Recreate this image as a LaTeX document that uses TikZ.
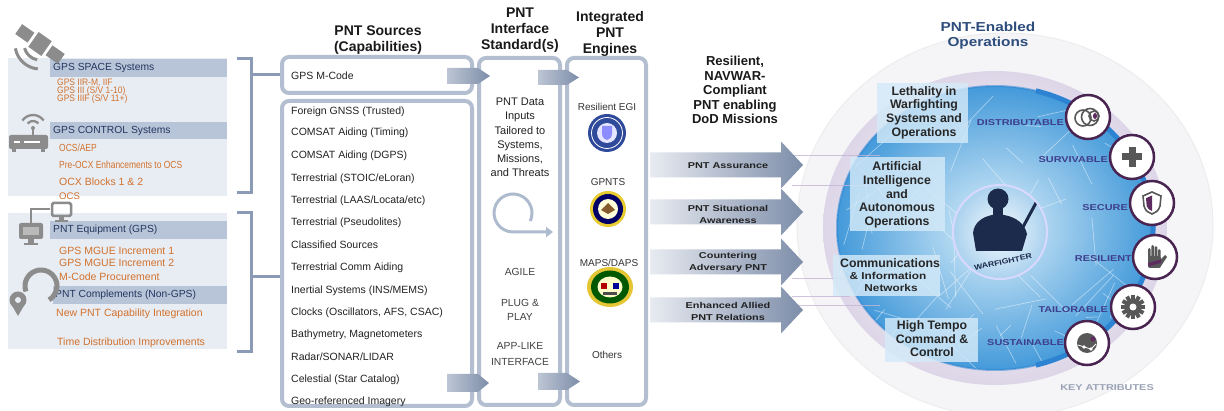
\documentclass[tikz,border=0pt]{standalone}
\usepackage{fontspec}
\setmainfont{Liberation Sans}
\newfontfamily\widef[FakeStretch=1.28]{Liberation Sans}
\newfontfamily\wideg[FakeStretch=1.18]{Liberation Sans}
\newfontfamily\narrowf[FakeStretch=0.82]{Liberation Sans}
\newfontfamily\narrowg[FakeStretch=0.9]{Liberation Sans}
\usetikzlibrary{arrows.meta}
\definecolor{panelbg}{HTML}{E8ECF3}
\definecolor{barc}{HTML}{B8C4D8}
\definecolor{navyt}{HTML}{23365E}
\definecolor{orng}{HTML}{D2722C}
\definecolor{brk}{HTML}{8C9BB5}
\definecolor{boxc}{HTML}{B3BFD1}
\definecolor{arL}{HTML}{E8EBF1}
\definecolor{arR}{HTML}{7D8DA9}
\definecolor{icong}{HTML}{8C8C8C}
\definecolor{txt}{HTML}{222222}
\definecolor{discin}{HTML}{DDF0FA}
\definecolor{discout}{HTML}{449ADA}
\definecolor{ringb}{HTML}{2C83D2}
\definecolor{rim}{HTML}{DDD6E8}
\definecolor{boxblue}{HTML}{D4EAF8}
\definecolor{attrc}{HTML}{3D3F8C}
\definecolor{attrb}{HTML}{4A2451}
\definecolor{purp}{HTML}{5E2B60}
\definecolor{wfnavy}{HTML}{1C2A4B}
\definecolor{titleb}{HTML}{2E4D7C}
\definecolor{keyg}{HTML}{9AA3B6}
\definecolor{icond}{HTML}{585858}
\definecolor{haloc}{HTML}{F5F5F8}
\definecolor{lavl}{HTML}{C4B5D6}
\definecolor{afblue}{HTML}{2F4A9A}
\definecolor{cyc}{HTML}{AEBBCF}
\tikzset{
 hdr/.style={font=\fontsize{10.3}{12}\selectfont, text=navyt, anchor=west, inner sep=0pt},
 org/.style={font=\fontsize{10.5}{12}\selectfont, text=orng, anchor=west, inner sep=0pt},
 orgn/.style={font=\narrowf\fontsize{10.3}{12}\selectfont, text=orng, anchor=west, inner sep=0pt},
 orgs/.style={font=\narrowg\fontsize{9.4}{10}\selectfont, text=orng, anchor=west, inner sep=0pt},
 src/.style={font=\fontsize{10.5}{12}\selectfont, text=txt, anchor=west, inner sep=0pt},
 colhead/.style={font=\bfseries\fontsize{14}{16}\selectfont, align=center, text=black!90, inner sep=0pt},
 midt/.style={font=\fontsize{11}{14.2}\selectfont, text=txt, align=center, inner sep=0pt},
 agile/.style={font=\fontsize{10.3}{14.5}\selectfont, text=black!75, align=center, inner sep=0pt},
 engt/.style={font=\fontsize{10}{12}\selectfont, text=black!80, inner sep=0pt},
 arlab/.style={font=\widef\bfseries\fontsize{8.5}{12}\selectfont, text=txt, align=center, inner sep=0pt},
 sph/.style={font=\bfseries\fontsize{12.3}{13.6}\selectfont, text=black!85, align=center, inner sep=0pt},
 sphs/.style={font=\wideg\bfseries\fontsize{10}{12}\selectfont, text=black!85, align=center, inner sep=0pt},
 attr/.style={font=\widef\bfseries\fontsize{8.5}{10}\selectfont, text=attrc, anchor=east, inner sep=0pt},
 attrcirc/.style={circle, minimum size=44pt, inner sep=0pt, fill=white, draw=attrb, line width=2.5pt},
 framebox/.style={draw=boxc, line width=4pt, rounded corners=7pt, fill=white, inner sep=0pt},
 bigarrow/.style={left color=arL, right color=arR},
 smallarrow/.style={left color=arL!60!arR, right color=arR},
 sbox/.style={fill=boxblue, fill opacity=0.82},
 brline/.style={draw=brk, line width=3pt},
}
\begin{document}
\begin{tikzpicture}[x=1pt,y=-1pt]
\useasboundingbox (0,0) rectangle (1224,411);
\fill[white] (0,0) rectangle (1224,411);

% ---------------- left panel ----------------
\fill[panelbg] (8,58) rectangle (227,196);
\fill[panelbg] (8,213) rectangle (227,349);
\fill[barc] (50,59) rectangle (227,77);
\fill[barc] (50,122) rectangle (227,139);
\fill[barc] (50,221) rectangle (227,239);
\fill[barc] (53,286) rectangle (227,304);
\node[hdr] (hspace) at (53,68) {GPS SPACE Systems};
\node[hdr] (hctrl) at (53,130.5) {GPS CONTROL Systems};
\node[hdr] (hequip) at (53,230) {PNT Equipment (GPS)};
\node[hdr] (hcompl) at (55,295) {PNT Complements (Non-GPS)};
\node[orgs] (o1) at (57,83) {GPS IIR-M, IIF};
\node[orgs] (o2) at (57,91) {GPS III (S/V 1-10)};
\node[orgs] (o3) at (57,99) {GPS IIIF (S/V 11+)};
\node[orgn] (o4) at (59,148) {OCS/AEP};
\node[orgn] (o5) at (59,165) {Pre-OCX Enhancements to OCS};
\node[org] (o6) at (59,182) {OCX Blocks 1 \& 2};
\node[org, font=\fontsize{9.6}{11}\selectfont] (o7) at (59,196) {OCS};
\node[org] (o8) at (59,251) {GPS MGUE Increment 1};
\node[org] (o9) at (59,263) {GPS MGUE Increment 2};
\node[org] (o10) at (59,277) {M-Code Procurement};
\node[org] (o11) at (56,314) {New PNT Capability Integration};
\node[org] (o12) at (57,343) {Time Distribution Improvements};

% icons
\begin{scope}[shift={(40,44)}, rotate=-35]
 \fill[icong] (-26,-6) rectangle (-11,6);
 \fill[icong] (-8,-9) rectangle (8,9);
 \fill[icong] (11,-6) rectangle (26,6);
\end{scope}
\draw[icong, line width=3pt] (40,44) ++(100:16) arc[start angle=100, end angle=165, radius=16];
\draw[icong, line width=3pt] (40,44) ++(95:25) arc[start angle=95, end angle=170, radius=25];
\draw[icong, line width=2.3pt] (33,128) ++(-140:7) arc[start angle=-140, end angle=-40, radius=7];
\draw[icong, line width=2.3pt] (33,128) ++(-145:13) arc[start angle=-145, end angle=-35, radius=13];
\fill[icong] (33,128) circle (2);
\draw[icong, line width=1.8pt] (33,128) -- (33,135);
\fill[icong, rounded corners=2pt] (9,135) rectangle (48,149);
\fill[white] (14,141) rectangle (20,143.5);
\fill[white] (24,141) rectangle (40,143.5);
\fill[icong] (12,149) rectangle (16,152);
\fill[icong] (41,149) rectangle (45,152);
\draw[icong, line width=2.5pt, rounded corners=1.5pt] (52,203) rectangle (71,216);
\fill[icong] (59,216) rectangle (64,220);
\fill[icong] (55,220) rectangle (68,222);
\fill[icong, rounded corners=2pt] (19,223) rectangle (43,239);
\fill[icong!60] (23,227) rectangle (39,235);
\fill[icong] (28,239) rectangle (34,243);
\fill[icong] (24,243) rectangle (38,245);
\draw[icong, line width=2pt] (31,223) -- (31,209) -- (50,209);
\draw[icong, line width=5pt] (41,286) ++(160:16) arc[start angle=160, end angle=420, radius=16];
\fill[icong] (18,300) circle (8.5);
\fill[icong] (10.5,303) -- (18,316) -- (25.5,303) -- cycle;
\fill[panelbg] (18,300) circle (3);

% ---------------- frames ----------------
\node[framebox, minimum width=190pt, minimum height=36pt] (mcode) at (377,75) {};
\node[framebox, minimum width=190pt, minimum height=305pt] (srcs) at (377,253.5) {};
\node[framebox, minimum width=81pt, minimum height=347pt] (ifc) at (519.5,231.5) {};
\node[framebox, minimum width=79pt, minimum height=347pt] (eng) at (606.5,231.5) {};

% brackets and their links
\coordinate (b1) at (251,75);
\coordinate (b2) at (251,277);
\draw[brline] (237,59) -- (251,59) -- (251,193) -- (237,193);
\draw[brline] (237,213) -- (251,213) -- (251,352) -- (237,352);
\draw[brline] (b1) -- (mcode.west);
\draw[brline] (b2) -- (srcs.west |- b2);

% small shaded arrows
\shade[smallarrow] (447,68) -- (478,68) -- (490,76) -- (478,84) -- (447,84) -- cycle;
\shade[smallarrow] (447,374) -- (478,374) -- (489,383) -- (478,392) -- (447,392) -- cycle;
\shade[smallarrow] (538,70) -- (567,70) -- (579,77.5) -- (567,85) -- (538,85) -- cycle;
\shade[smallarrow] (538,373) -- (567,373) -- (580,381.5) -- (567,390) -- (538,390) -- cycle;

% column headings
\node[colhead] (hsrc) at (378,40) {PNT Sources\\(Capabilities)};
\node[colhead] (hifc) at (520,30) {PNT\\Interface\\Standard(s)};
\node[colhead] (heng) at (610,33.5) {Integrated\\PNT\\Engines};

% sources
\node[src] (s0) at (291,76) {GPS M-Code};
\node[src] (s1) at (291,112) {Foreign GNSS (Trusted)};
\node[src] (s2) at (291,133) {COMSAT Aiding (Timing)};
\node[src] (s3) at (291,156) {COMSAT Aiding (DGPS)};
\node[src] (s4) at (291,179) {Terrestrial (STOIC/eLoran)};
\node[src] (s5) at (291,201) {Terrestrial (LAAS/Locata/etc)};
\node[src] (s6) at (291,223) {Terrestrial (Pseudolites)};
\node[src] (s7) at (291,245) {Classified Sources};
\node[src] (s8) at (291,268) {Terrestrial Comm Aiding};
\node[src] (s9) at (291,291) {Inertial Systems (INS/MEMS)};
\node[src] (s10) at (291,313) {Clocks (Oscillators, AFS, CSAC)};
\node[src] (s11) at (291,335) {Bathymetry, Magnetometers};
\node[src] (s12) at (291,357) {Radar/SONAR/LIDAR};
\node[src] (s13) at (291,380) {Celestial (Star Catalog)};
\node[src] (s14) at (291,402) {Geo-referenced Imagery};

% interface column
\node[midt] (idata) at (520,137.5) {PNT Data\\Inputs\\Tailored to\\Systems,\\Missions,\\and Threats};
\draw[cyc, line width=3pt, -{Triangle[length=7pt,width=10pt]}] (513,213) ++(25:19) arc[start angle=25, end angle=-270, radius=19] -- (553,232);
\node[agile] (iag) at (520,272) {AGILE};
\node[agile] (ipl) at (520,310) {PLUG \&\\PLAY};
\node[agile, font=\fontsize{10.3}{15.5}\selectfont] (iapp) at (520,354) {APP-LIKE\\INTERFACE};

% engines column
\node[engt] (e1) at (607,107) {Resilient EGI};
\fill[afblue] (607,133) circle (19);
\draw[white, line width=0.8pt] (607,133) circle (15.5);
\fill[white!90!blue] (607,133) circle (10);
\fill[blue!45!white] (602,126) -- (612,126) -- (612,134) .. controls (611,138) .. (607,140) .. controls (603,138) .. (602,134) -- cycle;
\node[engt] (e2) at (608,182) {GPNTS};
\fill[yellow!60!brown] (608,209) circle (18);
\fill[blue!40!black] (608,209) circle (15);
\fill[yellow!15!white] (608,209) circle (10);
\fill[brown!70!black] (601,210) -- (608,203) -- (615,210) -- (608,214) -- cycle;
\node[engt] (e3) at (609,263) {MAPS/DAPS};
\fill[yellow!55!brown] (610,287) ellipse [x radius=23, y radius=20];
\fill[green!35!black] (610,287) ellipse [x radius=19, y radius=16.5];
\fill[yellow!20!white] (610,287) ellipse [x radius=12.5, y radius=10.5];
\fill[red!70!black] (601,283) rectangle (607,289);
\fill[blue!60!black] (613,283) rectangle (619,289);
\fill[black!70] (603,292) rectangle (617,295);
\node[engt] (e4) at (607,355) {Others};

% ---------------- middle ----------------
\node[font=\bfseries\fontsize{13}{14.5}\selectfont, align=center, text=black!90, inner sep=0pt] (hmid) at (735,90) {Resilient,\\NAVWAR-\\Compliant\\PNT enabling\\DoD Missions};

% ---------------- sphere ----------------
\fill[haloc] (1005,225) ellipse [x radius=208, y radius=192];
\draw[black!7, line width=1pt] (1005,225) ellipse [x radius=208, y radius=192];
\shade[inner color=white, outer color=rim] (995,228) ellipse [x radius=172, y radius=157];
\shade[inner color=discin, outer color=discout] (995,228) ellipse [x radius=158, y radius=142];
\begin{scope}
 \clip (995,228) ellipse [x radius=158, y radius=142];
 \pgfmathsetseed{12}
 \foreach \i in {1,...,70}{
  \pgfmathsetmacro\xa{836+318*rnd}
  \pgfmathsetmacro\ya{86+284*rnd}
  \pgfmathsetmacro\xb{\xa+110*(rnd-0.5)}
  \pgfmathsetmacro\yb{\ya+110*(rnd-0.5)}
  \draw[white, opacity=0.45, line width=0.7pt] (\xa,\ya) -- (\xb,\yb);
 }
\end{scope}
\draw[ringb, line width=2pt, opacity=0.5] (995,228) ellipse [x radius=158, y radius=142];
\draw[ringb, line width=5pt] (995,228) ++(-75:158 and 142) arc[start angle=-75, end angle=75, x radius=158, y radius=142];
\foreach \yy/\xe in {156/880, 186/870, 279/860, 297/850, 306/880}{
 \draw[lavl, line width=1pt, opacity=0.8] (792,\yy) -- (\xe,\yy);
}

% big arrows
\foreach \cy in {165,212,262,310}{
 \shade[bigarrow] (650,\cy-12.5) -- (781,\cy-12.5) -- (781,\cy-23.5) -- (803,\cy) -- (781,\cy+23.5) -- (781,\cy+12.5) -- (650,\cy+12.5) -- cycle;
}
\node[arlab] (a1) at (728,166) {PNT Assurance};
\node[arlab] (a2) at (728,214) {PNT Situational\\Awareness};
\node[arlab] (a3) at (728,262.5) {Countering\\Adversary PNT};
\node[arlab] (a4) at (728,311) {Enhanced Allied\\PNT Relations};

% translucent boxes on the globe
\fill[sbox] (877,83) rectangle (968,143);
\fill[sbox] (850,157) rectangle (945,231);
\fill[sbox] (833,255) rectangle (940,296);
\fill[sbox] (885,318) rectangle (978,362);
\node[sph] (t1) at (924,112.5) {Lethality in\\Warfighting\\Systems and\\Operations};
\node[sph] (t2) at (897,195) {Artificial\\Intelligence\\and\\Autonomous\\Operations};
\node[sph] (t3) at (890,263) {Communications};
\node[sphs] (t3b) at (888,276) {\& Information};
\node[sphs] (t3c) at (891,288) {Networks};
\node[sph] (t4) at (932,339) {High Tempo\\Command \&\\Control};

% warfighter
\node[circle, minimum size=94pt, inner sep=0pt, inner color=white!70!discin, outer color=discout!45!white, draw=white!85!blue, line width=2pt] (wf) at (1000,232) {};
\begin{scope}
 \clip (1000,232) circle (46);
 \fill[wfnavy] (998,199) circle (10.5);
 \fill[wfnavy] (993,205) rectangle (1003,217);
 \fill[wfnavy] (976,251) -- (973,233) .. controls (974,223) and (982,217) .. (992,215) -- (1004,215) .. controls (1016,217) and (1025,224) .. (1027,234) -- (1022,251) -- cycle;
 \draw[wfnavy, line width=3pt] (1016,240) -- (1037,201);
\end{scope}
\node[font=\wideg\bfseries\fontsize{7.4}{8}\selectfont, text=wfnavy, rotate=12, inner sep=0pt] (wftxt) at (1003,262) {WARFIGHTER};

% attribute circles
\node[attrcirc] (c1) at (1088,117) {};
\node[attrcirc] (c2) at (1132,157) {};
\node[attrcirc] (c3) at (1152,203) {};
\node[attrcirc] (c4) at (1155,257) {};
\node[attrcirc] (c5) at (1133,307) {};
\node[attrcirc] (c6) at (1087,343) {};
\node[attr] (l1) at (1064,123) {DISTRIBUTABLE};
\node[attr] (l2) at (1108,160) {SURVIVABLE};
\node[attr] (l3) at (1128,208) {SECURE};
\node[attr] (l4) at (1132,259) {RESILIENT};
\node[attr] (l5) at (1108,310) {TAILORABLE};
\node[attr] (l6) at (1064,343) {SUSTAINABLE};
% icons in circles
\begin{scope}[shift={(1088,117)}]
 \draw[icond, line width=1.6pt] (-5,1) circle (8);
 \draw[icond, line width=1.6pt] (2,0) circle (8.5);
 \draw[icond, line width=1.6pt] (6,-1) circle (5);
 \fill[purp] (7,-1) ellipse [x radius=2, y radius=3];
\end{scope}
\begin{scope}[shift={(1132,157)}]
 \fill[icond] (-10,-3.5) rectangle (10,3.5);
 \fill[icond] (-3.5,-10) rectangle (3.5,10);
\end{scope}
\begin{scope}[shift={(1152,203)}]
 \draw[icond, line width=1.6pt, fill=white] (0,-11) -- (9,-7) -- (8,3) .. controls (6,8) .. (0,11) .. controls (-6,8) .. (-8,3) -- (-9,-7) -- cycle;
 \fill[purp] (0,-7.5) -- (-6,-4.8) -- (-5.3,3) .. controls (-4,6) .. (0,8) -- cycle;
\end{scope}
\begin{scope}[shift={(1155,257)}]
 \fill[icond, rounded corners=2pt] (-7,-1) rectangle (6,11);
 \fill[icond, rounded corners=1.4pt] (-7,-9) rectangle (-4.3,1);
 \fill[icond, rounded corners=1.4pt] (-3.7,-12) rectangle (-1,1);
 \fill[icond, rounded corners=1.4pt] (-0.4,-11) rectangle (2.3,1);
 \fill[icond, rounded corners=1.4pt] (2.9,-8) rectangle (5.6,1);
 \fill[icond] (5,3) -- (10,-2) -- (12,0) -- (6,9) -- cycle;
 \fill[purp] (-7,6) -- (6,2.5) -- (6,6) -- (-7,9.5) -- cycle;
\end{scope}
\begin{scope}[shift={(1133,307)}]
 \foreach \a in {0,30,...,330}{ \fill[icond, rotate=\a] (-2,7) rectangle (2,12); }
 \fill[icond] (0,0) circle (8.5);
 \fill[white] (0,0) circle (3.5);
\end{scope}
\begin{scope}[shift={(1087,343)}]
 \fill[icond] (0,0) circle (10);
 \draw[white, line width=0.8pt] (-9,2) -- (-3,4) -- (4,6) -- (9,1);
 \fill[white] (-3,4) circle (1.8);
 \fill[white] (4,6) circle (1.8);
 \fill[purp] (6,-4) circle (2.6);
\end{scope}

% titles
\node[font=\wideg\bfseries\fontsize{13}{15}\selectfont, text=titleb, align=center, inner sep=0pt] (ttl) at (988,35.5) {PNT-Enabled\\Operations};
\node[attr, text=keyg, anchor=center] (key) at (1107,388) {KEY ATTRIBUTES};
\end{tikzpicture}
\end{document}
